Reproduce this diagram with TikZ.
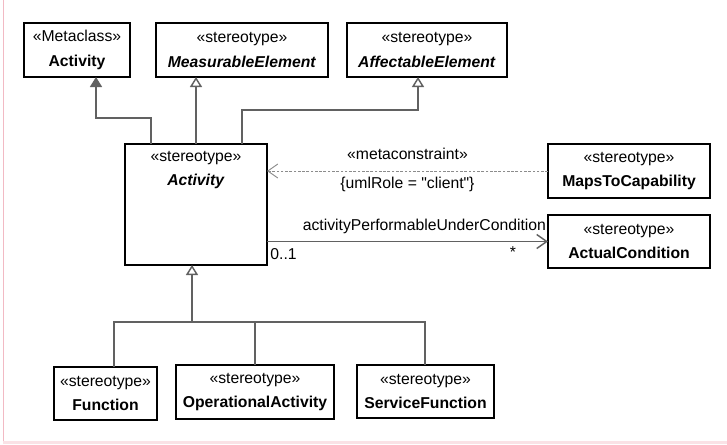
\documentclass[tikz,border=0pt]{standalone}
\usepackage{fontspec}
\setmainfont{Liberation Sans}[Ligatures=TeXOff]
\usetikzlibrary{arrows.meta}
\definecolor{frameline}{RGB}{242,186,196}
\definecolor{framefill}{RGB}{250,226,230}
\begin{document}
\begin{tikzpicture}[x=0.75pt,y=-0.75pt,
    ufont/.style={font=\fontsize{11.8}{18.5}\selectfont},
    uml/.style={ufont,draw=black,line width=1.2pt,fill=white,rectangle,anchor=north west,align=center,inner sep=0pt,outer sep=0pt},
    link/.style={draw=black!62,line width=1.1pt},
    gen/.style={link,-{Triangle[open,length=7.5pt,width=9pt]}},
    metagen/.style={link,-{Triangle[length=7.5pt,width=9pt,fill=black!62]}},
    dep/.style={draw=black!45,line width=0.7pt,dash pattern=on 2pt off 1.2pt,-{Straight Barb[length=7.5pt,width=10.5pt]}},
    assoc/.style={link,-{Straight Barb[length=7.5pt,width=10.5pt]}},
    tag/.style={ufont,inner sep=2pt}]
    \useasboundingbox (0,0) rectangle (727,444);
    %% Frame
    \draw[frameline,line width=0.9pt] (3.5,0) -- (3.5,444);
    \fill[framefill] (3,441) rectangle (727,444);
    %% Top row
    \node[uml,minimum width=79.5pt,minimum height=40.5pt] (meta) at (24,23) {«Metaclass»\\\textbf{Activity}};
    \node[uml,minimum width=129pt,minimum height=40.5pt] (meas) at (156,23) {«stereotype»\\\textbf{\textit{MeasurableElement}}};
    \node[uml,minimum width=120pt,minimum height=40.5pt] (affe) at (347,23) {«stereotype»\\\textbf{\textit{AffectableElement}}};
    %% Middle
    \node[uml,minimum width=106.5pt,minimum height=90.75pt,
          label={[ufont,anchor=north,align=center,inner sep=5pt]north:{«stereotype»\\\textbf{\textit{Activity}}}}] (act) at (125,144) {};
    \node[uml,minimum width=121.5pt,minimum height=40.5pt] (maps) at (548,144) {«stereotype»\\\textbf{MapsToCapability}};
    \node[uml,minimum width=121.5pt,minimum height=39.75pt] (cond) at (548,215) {«stereotype»\\\textbf{ActualCondition}};
    %% Bottom row
    \node[uml,minimum width=77.25pt,minimum height=39.75pt] (func) at (54,367) {«stereotype»\\\textbf{Function}};
    \node[uml,minimum width=118.5pt,minimum height=40.5pt] (opact) at (176,365) {«stereotype»\\\textbf{OperationalActivity}};
    \node[uml,minimum width=102.75pt,minimum height=39.75pt] (serv) at (357,365) {«stereotype»\\\textbf{ServiceFunction}};
    %% Generalizations upwards
    \coordinate (ja) at (96,118);
    \coordinate (jb) at (196,144);
    \coordinate (jc) at (418,110);
    \draw[metagen] ([xshift=19.5pt]act.north west) |- (ja) -- (meta.south -| ja);
    \draw[gen] (jb) -- (meas.south -| jb);
    \draw[gen] ([xshift=87.75pt]act.north west) |- (jc) -- (affe.south -| jc);
    %% Generalizations downwards
    \coordinate (fa) at (114,322);
    \coordinate (fb) at (192,322);
    \coordinate (fc) at (255,322);
    \coordinate (fd) at (425,322);
    \draw[gen] (fb) -- (act.south -| fb);
    \draw[link] (func.north -| fa) -- (fa) -- (fd) -- (serv.north -| fd);
    \draw[link] (opact.north -| fc) -- (fc);
    %% Metaconstraint
    \draw[dep] (maps.west) -- (act.east |- maps.west)
        node[tag,midway,yshift=12.75pt] (mc) {«metaconstraint»}
        node[tag,midway,yshift=-9.75pt] (role) {\{umlRole = "client"\}};
    %% Association
    \draw[assoc] (act.east |- cond.west) -- (cond.west)
        node[tag,pos=0.56,yshift=11.25pt] (aname) {activityPerformableUnderCondition}
        node[tag,pos=0,anchor=north west,yshift=-3pt] (m1) {0..1}
        node[tag,pos=0.875,anchor=north,yshift=-1pt] (m2) {*};
\end{tikzpicture}
\end{document}
